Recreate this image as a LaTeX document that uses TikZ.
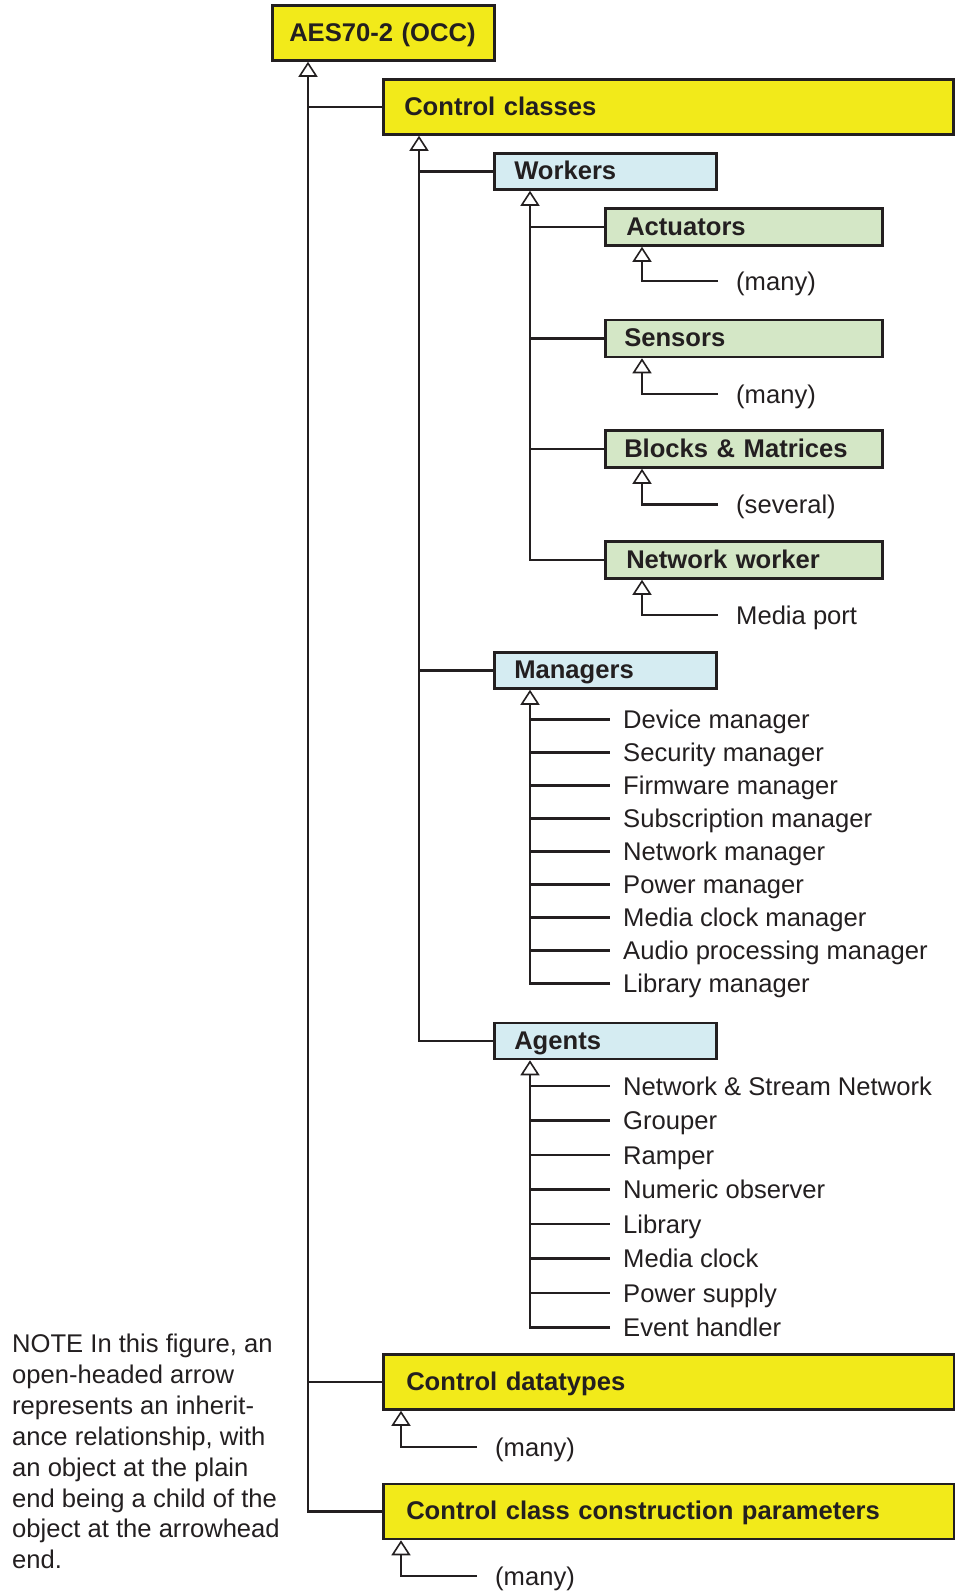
\documentclass[tikz,border=0pt]{standalone}
\usepackage{fontspec}
\setmainfont{Liberation Sans}
\usetikzlibrary{arrows.meta}
\definecolor{ink}{HTML}{231F20}
\definecolor{yel}{HTML}{F2EA1A}
\definecolor{blu}{HTML}{D5ECF2}
\definecolor{grn}{HTML}{D4E7C6}
\begin{document}
\begin{tikzpicture}[x=1pt,y=-1pt,
  box/.style={draw=ink, line width=2.5pt, anchor=west, inner ysep=0pt, align=left,
    font=\fontsize{25.6}{30}\selectfont\bfseries, text=ink, text height=20pt, text depth=4pt},
  ybox/.style={box, fill=yel, minimum height=55pt},
  bbox/.style={box, fill=blu, minimum height=36pt},
  gbox/.style={box, fill=grn, minimum height=37pt},
  leaf/.style={anchor=west, inner xsep=13pt, inner ysep=0pt,
    font=\fontsize{25.6}{30}\selectfont, text=ink, text height=21pt, text depth=3pt},
  sub/.style={leaf, inner xsep=18pt},
  wire/.style={draw=ink, line width=2.6pt},
  inh/.style={wire, -{Triangle[fill=white, length=15pt, width=19pt, line width=1.6pt]}}
]
\useasboundingbox (0,0) rectangle (955,1591);

% boxes
\node[ybox, inner xsep=17pt, text width=188pt] (aes) at (271,33) {AES70-2 (OCC)};
\node[ybox, inner xsep=21pt, text width=528pt] (cc) at (382,107) {Control classes};
\node[bbox, inner xsep=20pt, text width=182pt] (workers) at (493,171.5) {Workers};
\node[gbox, inner xsep=21pt, text width=235pt] (act) at (604,227) {Actuators};
\node[gbox, inner xsep=19pt, text width=239pt] (sens) at (604,338.5) {Sensors};
\node[gbox, inner xsep=19pt, text width=239pt] (blocks) at (604,449) {Blocks \& Matrices};
\node[gbox, inner xsep=21pt, text width=235pt] (netw) at (604,560) {Network worker};
\node[bbox, inner xsep=20pt, text width=182pt] (mgr) at (493,670.5) {Managers};
\node[bbox, inner xsep=20pt, text width=182pt] (agents) at (493,1041) {Agents};
\node[ybox, inner xsep=23pt, text width=525pt] (cdt) at (382,1382) {Control datatypes};
\node[ybox, inner xsep=23pt, text width=525pt] (ccp) at (382,1511.5) {Control class construction parameters};

% trunk coordinates
\coordinate (t0) at ([xshift=37pt]aes.south west);
\coordinate (t1) at ([xshift=37pt]cc.south west);
\coordinate (t2) at ([xshift=37pt]workers.south west);
\coordinate (t3) at ([xshift=37pt]mgr.south west);
\coordinate (t4) at ([xshift=37pt]agents.south west);
\coordinate (g1) at ([xshift=38pt]act.south west);
\coordinate (g2) at ([xshift=38pt]sens.south west);
\coordinate (g3) at ([xshift=38pt]blocks.south west);
\coordinate (g4) at ([xshift=38pt]netw.south west);
\coordinate (y1) at ([xshift=19pt]cdt.south west);
\coordinate (y2) at ([xshift=19pt]ccp.south west);

% leaf texts
\node[sub] (l1) at (718,281) {(many)};
\node[sub] (l2) at (718,394) {(many)};
\node[sub] (l3) at (718,504.5) {(several)};
\node[sub] (l4) at (718,615) {Media port};
\node[sub] (l5) at (477,1447) {(many)};
\node[sub] (l6) at (477,1576) {(many)};

\node[leaf] (m1) at (610,719.5) {Device manager};
\node[leaf] (m2) at (610,752.5) {Security manager};
\node[leaf] (m3) at (610,785.5) {Firmware manager};
\node[leaf] (m4) at (610,818.5) {Subscription manager};
\node[leaf] (m5) at (610,851.5) {Network manager};
\node[leaf] (m6) at (610,884.5) {Power manager};
\node[leaf] (m7) at (610,917.5) {Media clock manager};
\node[leaf] (m8) at (610,950.5) {Audio processing manager};
\node[leaf] (m9) at (610,983.5) {Library manager};

\node[leaf] (a1) at (610,1086) {Network \& Stream Network};
\node[leaf] (a2) at (610,1120.5) {Grouper};
\node[leaf] (a3) at (610,1155) {Ramper};
\node[leaf] (a4) at (610,1189.5) {Numeric observer};
\node[leaf] (a5) at (610,1224) {Library};
\node[leaf] (a6) at (610,1258.5) {Media clock};
\node[leaf] (a7) at (610,1293) {Power supply};
\node[leaf] (a8) at (610,1327.5) {Event handler};

% connectors
\draw[inh] (ccp.west) -| (t0);
\draw[wire] (t0 |- cc.west) -- (cc.west);
\draw[wire] (t0 |- cdt.west) -- (cdt.west);

\draw[inh] (agents.west) -| (t1);
\draw[wire] (t1 |- workers.west) -- (workers.west);
\draw[wire] (t1 |- mgr.west) -- (mgr.west);

\draw[inh] (netw.west) -| (t2);
\draw[wire] (t2 |- act.west) -- (act.west);
\draw[wire] (t2 |- sens.west) -- (sens.west);
\draw[wire] (t2 |- blocks.west) -- (blocks.west);

\draw[inh] (m9.west) -| (t3);
\foreach \i in {1,...,8} \draw[wire] (t3 |- m\i.west) -- (m\i.west);

\draw[inh] (a8.west) -| (t4);
\foreach \i in {1,...,7} \draw[wire] (t4 |- a\i.west) -- (a\i.west);

\draw[inh] (l1.west) -| (g1);
\draw[inh] (l2.west) -| (g2);
\draw[inh] (l3.west) -| (g3);
\draw[inh] (l4.west) -| (g4);
\draw[inh] (l5.west) -| (y1);
\draw[inh] (l6.west) -| (y2);

% note
\node[anchor=north west, inner sep=0pt, align=left, text=ink,
  font=\fontsize{25.6}{30.86}\selectfont] (note) at (12,1334)
  {NOTE In this figure, an\\open-headed arrow\\represents an inherit-\\ance relationship, with\\an object at the plain\\end being a child of the\\object at the arrowhead\\end.};
\end{tikzpicture}
\end{document}
